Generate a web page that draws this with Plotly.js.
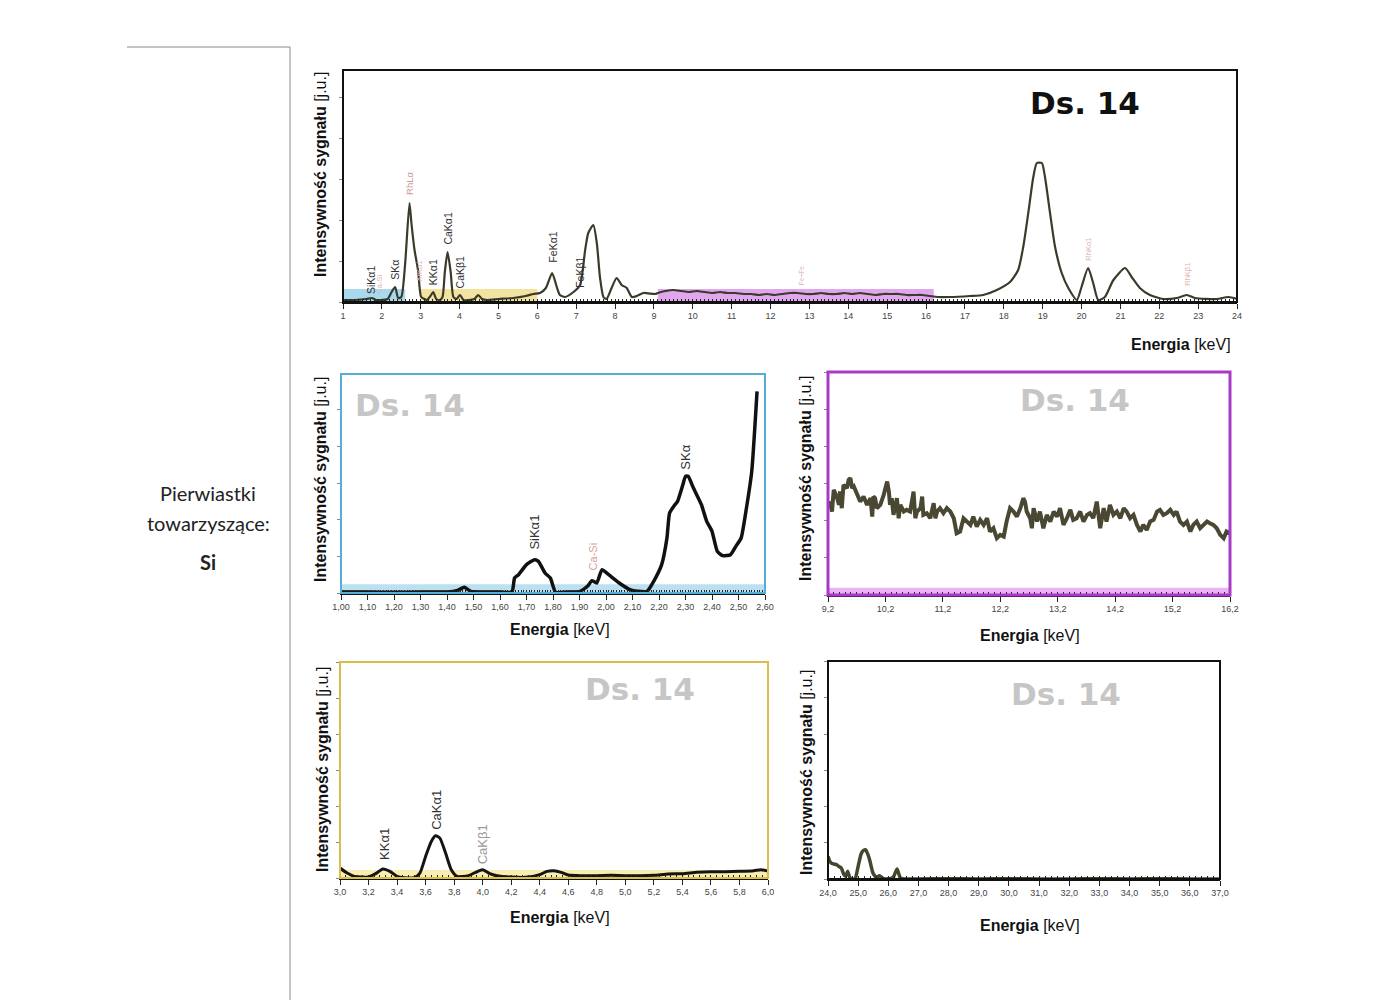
<!DOCTYPE html>
<html><head><meta charset="utf-8">
<script src="https://cdn.plot.ly/plotly-3.0.1.min.js"></script>
<style>body{margin:0;background:#fff}#chart{width:1400px;height:1000px}</style>
</head><body><div id="chart"></div>
<script>
// ---------- DATA ----------
// Full spectrum 1-24 keV (arbitrary units)
const fullEnergy = [1.00,1.30,1.60,1.74,1.85,2.00,2.15,2.25,2.34,2.42,2.50,2.60,2.71,2.76,2.84,2.93,3.01,3.10,3.16,3.25,3.32,3.40,3.49,3.56,3.62,3.69,3.77,3.84,3.92,4.01,4.10,4.23,4.38,4.48,4.58,4.70,5.00,5.38,5.70,5.90,6.07,6.22,6.38,6.50,6.58,6.71,6.93,7.10,7.23,7.31,7.44,7.53,7.61,7.70,7.78,7.91,8.04,8.17,8.30,8.43,8.56,8.73,9.03,9.1,9.3,9.5,9.7,9.9,10.1,10.3,10.5,10.7,10.9,11.1,11.3,11.5,11.7,11.9,12.1,12.3,12.5,12.7,12.9,13.1,13.3,13.5,13.7,13.9,14.1,14.3,14.5,14.7,14.9,15.1,15.3,15.5,15.7,15.9,16.1,16.3,16.62,17.13,17.47,17.82,18.16,18.37,18.50,18.63,18.76,18.85,18.98,19.06,19.19,19.32,19.49,19.66,19.88,20.00,20.17,20.30,20.43,20.60,20.82,21.12,21.29,21.50,21.76,22.10,22.45,22.71,22.92,23.48,23.78,24.00];
const fullSignal = [2,2,3,4,2,2,3,10,15,4,5,39,99,79,52,32,5,3,2,6,10,3,2,5,30,50,30,5,3,7,2,2,3,7,3,2,3,4,6,8,9,14,29,15,7,5,10,17,52,69,77,59,25,5,3,14,24,17,14,5,6,9,8,9,11,12,11,10,11,10,9,10,9,9,8,8,7,8,7,8,9,9,8,8,9,8,8,9,8,9,8,7,8,8,8,7,7,7,6,5,5,6,7,12,20,32,55,89,125,139,139,125,89,55,29,14,2,15,34,19,2,5,22,34,25,14,7,3,4,7,4,3,5,3];

// Zoom 1.00-2.60 keV
const siEnergy = [1.00,1.10,1.20,1.30,1.40,1.44,1.465,1.49,1.55,1.60,1.645,1.655,1.67,1.70,1.73,1.745,1.77,1.79,1.81,1.85,1.90,1.93,1.947,1.965,1.985,2.01,2.05,2.09,2.12,2.155,2.18,2.21,2.23,2.24,2.26,2.27,2.29,2.30,2.31,2.33,2.36,2.38,2.40,2.42,2.44,2.47,2.49,2.51,2.53,2.55,2.57];
const siSignal = [3,3,2,3,3,8,17,5,3,3,3,45,55,85,100,95,60,45,2,3,4,20,37,30,70,55,30,10,5,5,35,85,165,240,265,275,325,350,350,315,265,215,185,125,112,115,140,165,255,365,605];

// Zoom 9.2-16.2 keV
const magEnergy = [9.20,9.24,9.27,9.30,9.36,9.39,9.41,9.44,9.47,9.53,9.56,9.59,9.62,9.65,9.70,9.73,9.76,9.82,9.88,9.94,9.97,9.99,10.02,10.05,10.11,10.17,10.23,10.26,10.28,10.31,10.34,10.40,10.43,10.46,10.52,10.57,10.63,10.69,10.72,10.75,10.81,10.84,10.86,10.92,10.98,11.04,11.07,11.10,11.15,11.21,11.27,11.33,11.39,11.44,11.50,11.56,11.62,11.68,11.73,11.79,11.85,11.91,11.97,12.02,12.08,12.14,12.20,12.26,12.31,12.37,12.43,12.49,12.55,12.60,12.63,12.66,12.72,12.75,12.78,12.84,12.89,12.95,13.01,13.07,13.13,13.19,13.24,13.30,13.36,13.42,13.47,13.53,13.59,13.65,13.71,13.76,13.82,13.88,13.94,14.00,14.05,14.11,14.17,14.23,14.29,14.35,14.40,14.46,14.52,14.58,14.64,14.69,14.75,14.81,14.87,14.93,14.98,15.04,15.10,15.16,15.22,15.27,15.33,15.39,15.45,15.51,15.56,15.62,15.68,15.74,15.80,15.85,15.91,15.97,16.03,16.09,16.14,16.20];
const magSignal = [260,280,250,315,290,270,310,260,330,320,345,350,320,325,305,290,280,295,270,290,235,295,290,260,270,300,340,310,270,290,240,290,230,270,250,255,250,310,230,250,260,295,240,245,230,275,230,250,260,245,260,250,230,185,190,230,220,210,235,205,225,210,230,190,200,170,180,175,220,260,250,235,260,290,280,250,230,200,260,220,250,200,240,220,250,235,260,210,230,255,225,230,250,220,240,245,230,280,200,260,220,270,240,250,230,260,250,230,240,210,190,210,195,220,225,250,255,240,245,255,240,250,220,210,220,190,210,220,200,210,220,215,210,200,180,170,190,185];

// Zoom 3.0-6.0 keV
const caEnergy = [3.00,3.05,3.10,3.20,3.25,3.30,3.35,3.40,3.45,3.52,3.56,3.60,3.64,3.67,3.70,3.74,3.78,3.82,3.90,3.95,4.00,4.05,4.10,4.20,4.30,4.40,4.45,4.50,4.55,4.60,4.70,4.80,4.90,5.00,5.10,5.20,5.30,5.40,5.50,5.60,5.70,5.80,5.90,5.95,6.00];
const caSignal = [30,15,5,3,13,27,20,5,1,1,15,65,110,127,120,75,25,5,7,17,25,13,7,3,2,10,20,22,17,9,7,7,8,7,7,8,12,13,17,19,19,20,22,25,21];

// Zoom 24-37 keV
const rhEnergy = [24.00,24.05,24.11,24.20,24.28,24.36,24.44,24.52,24.58,24.65,24.72,24.80,24.90,25.00,25.10,25.18,25.25,25.32,25.38,25.49,25.60,25.71,25.80,25.90,26.00,26.10,26.18,26.29,26.40,26.55,27.0,28.0,29.0,30.0,31.0,32.0,33.0,34.0,35.0,36.0,37.0];
const rhSignal = [68,55,48,45,43,38,33,15,8,23,5,0,1,38,76,86,88,75,58,18,5,10,3,0,1,2,8,30,3,0,0,1,0,1,0,0,1,0,1,0,0];

// Peak labels
const topLabels = [
  {t:'SiKα1', e:1.72, h:6, c:'#333', s:10.5},
  {t:'Ca-Si', e:1.93, h:6, c:'#e2b4b4', s:7.5},
  {t:'SKα', e:2.33, h:20, c:'#333', s:10.5},
  {t:'RhLα', e:2.71, h:105, c:'#cc9a9a', s:9.5},
  {t:'ArKα1', e:2.98, h:19, c:'#e2b4b4', s:7.5},
  {t:'KKα1', e:3.32, h:15, c:'#333', s:10.5},
  {t:'CaKα1', e:3.69, h:55, c:'#333', s:10.5},
  {t:'CaKβ1', e:4.02, h:12, c:'#333', s:10.5},
  {t:'FeKα1', e:6.38, h:37, c:'#333', s:10.5},
  {t:'FeKβ1', e:7.08, h:12, c:'#333', s:10.5},
  {t:'Fe+Fe', e:12.8, h:15, c:'#e2b4b4', s:6.5},
  {t:'RhKα1', e:20.17, h:39, c:'#e2b4b4', s:7.5},
  {t:'RhKβ1', e:22.72, h:14, c:'#e2b4b4', s:7.5}
];
const siLabels = [
  {t:'SiKα1', e:1.73, h:124, c:'#333', s:13},
  {t:'Ca-Si', e:1.95, h:61, c:'#dba0a0', s:11},
  {t:'SKα', e:2.30, h:364, c:'#333', s:13}
];
const caLabels = [
  {t:'KKα1', e:3.31, h:49, c:'#333', s:13},
  {t:'CaKα1', e:3.68, h:139, c:'#333', s:13},
  {t:'CaKβ1', e:4.00, h:34, c:'#999', s:13}
];

// ---------- LAYOUT ----------
const W = 1400, H = 1000;
const px = x => x / W, py = y => 1 - y / H;
const TF = 'Liberation Sans, Arial, sans-serif';
const DF = 'DejaVu Sans, Liberation Sans, sans-serif';

function xax(dom, range, dtick, minor, fmt, anchor) {
  return {domain: dom, range: range, anchor: anchor, dtick: dtick, tick0: range[0],
    tickformat: fmt, showgrid: false, zeroline: false, showline: true, linecolor: '#111', linewidth: 1.5,
    ticks: 'outside', ticklen: 5, tickcolor: '#222', tickwidth: 1,
    tickfont: {family: TF, size: 9, color: '#444'},
    minor: {dtick: minor, ticks: 'inside', ticklen: 3, tickcolor: '#222', tickwidth: 1},
    fixedrange: true};
}
function yax(dom, range, dtick, anchor) {
  return {domain: dom, range: range, anchor: anchor, dtick: dtick, showticklabels: false,
    showgrid: false, zeroline: false, showline: true, linecolor: '#111', linewidth: 1,
    ticks: 'outside', ticklen: 3, tickcolor: '#888', fixedrange: true};
}

const layout = {
  width: W, height: H, margin: {l: 0, r: 0, t: 0, b: 0},
  paper_bgcolor: '#fff', plot_bgcolor: 'rgba(0,0,0,0)', showlegend: false,
  separators: ', ',
  xaxis: xax([px(343), px(1237)], [1, 24], 1, 0.1, 'd', 'y'),
  yaxis: yax([py(302), py(70)], [0, 232], 41, 'x'),
  xaxis2: xax([px(341), px(765)], [1.0, 2.6], 0.1, 0.01, '.2f', 'y2'),
  yaxis2: yax([py(593), py(374)], [0, 657], 110, 'x2'),
  xaxis3: xax([px(828), px(1230)], [9.2, 16.2], 1, 0.1, '.1f', 'y3'),
  yaxis3: yax([py(595), py(372)], [0, 668], 111, 'x3'),
  xaxis4: xax([px(340), px(768)], [3.0, 6.0], 0.2, 0.04, '.1f', 'y4'),
  yaxis4: yax([py(878), py(662)], [0, 650], 108, 'x4'),
  xaxis5: xax([px(828), px(1220)], [24, 37], 1, 0.2, '.1f', 'y5'),
  yaxis5: yax([py(879), py(661)], [0, 656], 109, 'x5'),
  shapes: [], annotations: []
};

// coloured bands
function band(xr, yr, x0, x1, y0, y1, col) {
  layout.shapes.push({type: 'rect', xref: xr, yref: yr, x0: x0, x1: x1, y0: y0, y1: y1,
    fillcolor: col, line: {width: 0}, layer: 'below'});
}
band('x', 'y', 1.0, 2.6, 0, 13, '#a9d9ee');
band('x', 'y', 3.0, 6.0, 0, 13, '#f3e3a0');
band('x', 'y', 9.1, 16.2, 0, 13, '#e2a6ee');
band('x2', 'y2', 1.0, 2.6, 0, 26, '#b9e1f2');
band('x3', 'y3', 9.2, 16.2, 0, 22, '#ebb3f5');
band('x4', 'y4', 3.0, 6.0, 0, 24, '#f8eeb4');

// frames
function frame(ax, col, w) {
  layout.shapes.push({type: 'rect', xref: ax[0] + ' domain', yref: ax[1] + ' domain',
    x0: 0, x1: 1, y0: 0, y1: 1, line: {color: col, width: w}, layer: 'above'});
}
frame(['x', 'y'], '#111', 2);
frame(['x2', 'y2'], '#55aed6', 2);
frame(['x3', 'y3'], '#a83ac8', 3);
frame(['x4', 'y4'], '#d9bf48', 2);
frame(['x5', 'y5'], '#111', 2);

// page lines
layout.shapes.push({type: 'line', xref: 'paper', yref: 'paper', x0: px(127), x1: px(290), y0: py(47), y1: py(47), line: {color: '#8a8a8a', width: 1}});
layout.shapes.push({type: 'line', xref: 'paper', yref: 'paper', x0: px(290), x1: px(290), y0: py(47), y1: py(1000), line: {color: '#8a8a8a', width: 1}});

// peak labels
function peakLabels(list, xr, yr) {
  list.forEach(l => layout.annotations.push({xref: xr, yref: yr, x: l.e, y: l.h, text: l.t,
    textangle: -90, showarrow: false, xanchor: 'center', yanchor: 'bottom',
    font: {family: TF, size: l.s, color: l.c}}));
}
peakLabels(topLabels, 'x', 'y');
peakLabels(siLabels, 'x2', 'y2');
peakLabels(caLabels, 'x4', 'y4');

// Ds. 14 tags
function tag(x, y, col) {
  layout.annotations.push({xref: 'paper', yref: 'paper', x: px(x), y: py(y), text: '<b>Ds. 14</b>',
    showarrow: false, xanchor: 'center', yanchor: 'middle', font: {family: DF, size: 31, color: col}});
}
tag(1085, 103, '#111');
tag(410, 405, '#c6c6c6');
tag(1075, 400, '#c6c6c6');
tag(640, 689, '#c6c6c6');
tag(1066, 694, '#c6c6c6');

// axis titles
const yTitle = '<b>Intensywność sygnału</b> [j.u.]';
const xTitle = '<b>Energia</b> [keV]';
function yT(x, y) {
  layout.annotations.push({xref: 'paper', yref: 'paper', x: px(x), y: py(y), text: yTitle, textangle: -90,
    showarrow: false, xanchor: 'center', yanchor: 'middle', font: {family: TF, size: 16, color: '#111'}});
}
function xT(x, y, anc) {
  layout.annotations.push({xref: 'paper', yref: 'paper', x: px(x), y: py(y), text: xTitle,
    showarrow: false, xanchor: anc, yanchor: 'middle', font: {family: TF, size: 16, color: '#111'}});
}
yT(320, 175); yT(320, 480); yT(805, 478); yT(322, 770); yT(806, 773);
xT(1233, 344, 'right'); xT(560, 629, 'center'); xT(1030, 635, 'center'); xT(560, 917, 'center'); xT(1030, 925, 'center');

// left-hand text
const LF = 'Lato, Open Sans, sans-serif';
[['Pierwiastki', 493], ['towarzyszące:', 523], ['<b>Si</b>', 562]].forEach(([t, y]) =>
  layout.annotations.push({xref: 'paper', yref: 'paper', x: px(208), y: py(y), text: t, showarrow: false,
    xanchor: 'center', yanchor: 'middle', font: {family: LF, size: 20, color: '#222'}}));

// ---------- TRACES ----------
const traces = [
  {x: fullEnergy, y: fullSignal, xaxis: 'x', yaxis: 'y', mode: 'lines', line: {color: '#3b3b2b', width: 2.2, shape: 'spline', smoothing: 0.6}, hoverinfo: 'skip'},
  {x: siEnergy, y: siSignal, xaxis: 'x2', yaxis: 'y2', mode: 'lines', line: {color: '#111', width: 3.5, shape: 'spline', smoothing: 0.5}, hoverinfo: 'skip'},
  {x: magEnergy, y: magSignal, xaxis: 'x3', yaxis: 'y3', mode: 'lines', line: {color: '#4a4832', width: 4}, hoverinfo: 'skip'},
  {x: caEnergy, y: caSignal, xaxis: 'x4', yaxis: 'y4', mode: 'lines', line: {color: '#141414', width: 3, shape: 'spline', smoothing: 0.6}, hoverinfo: 'skip'},
  {x: rhEnergy, y: rhSignal, xaxis: 'x5', yaxis: 'y5', mode: 'lines', line: {color: '#46462f', width: 3.5, shape: 'spline', smoothing: 0.5}, hoverinfo: 'skip'}
];

Plotly.newPlot('chart', traces, layout, {staticPlot: true, displayModeBar: false});
</script>
</body></html>
